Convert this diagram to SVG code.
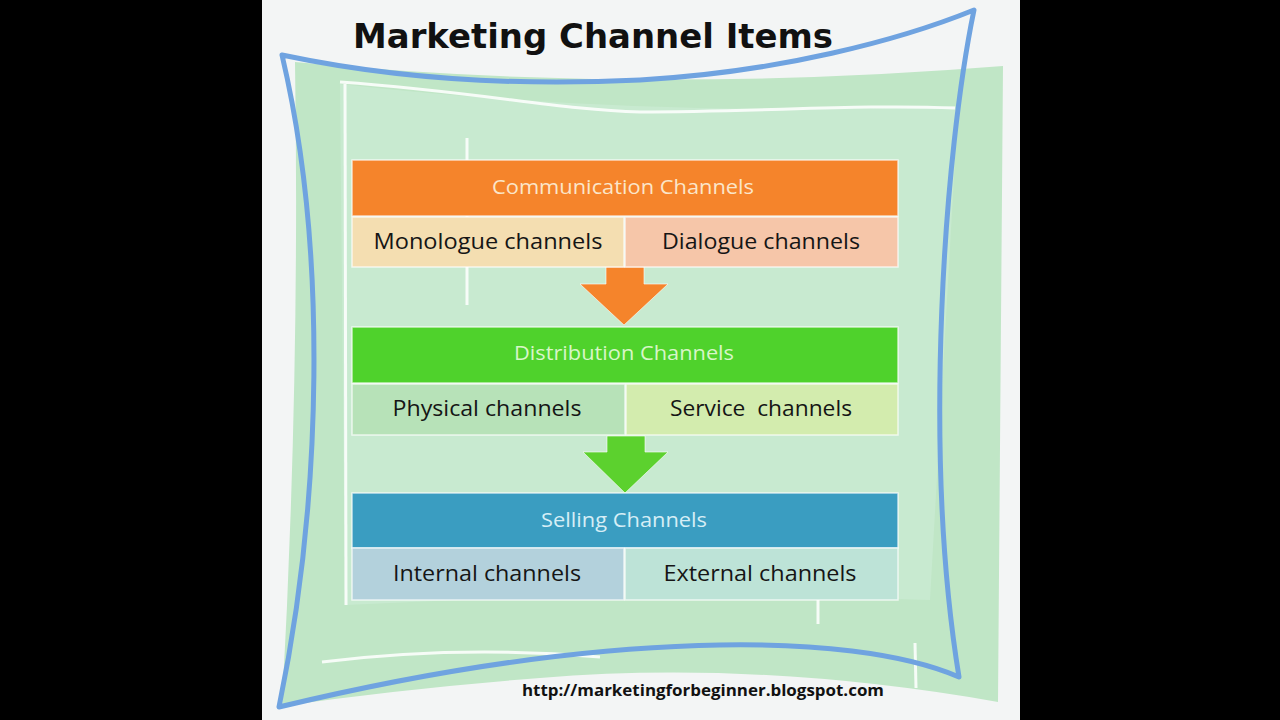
<svg xmlns="http://www.w3.org/2000/svg" width="1280" height="720" viewBox="0 0 1280 720">
<style>
.hdr{font-family:"Open Sans","Liberation Sans",sans-serif;font-size:20px;text-anchor:middle}
.sub{font-family:"Open Sans","Liberation Sans",sans-serif;font-size:22px;fill:#151515;text-anchor:middle}
.wl{fill:none;stroke:#ffffff;stroke-width:3;opacity:0.85}
.blue{fill:none;stroke:#6fa3e0;stroke-width:5;stroke-linejoin:round}
.box{stroke:#ffffff;stroke-width:1.5;stroke-opacity:0.7}
</style>
<rect x="0" y="0" width="1280" height="720" fill="#000000"/>
<rect x="262" y="0" width="758" height="720" fill="#f3f5f5"/>
<g id="background">
<path d="M295,62 Q640,95 1003,66 L998,702 Q760,660 540,678 Q410,688 282,706 Q300,380 295,62 Z" fill="#c0e6c6"/>
<path d="M340,84 Q640,118 958,106 L930,600 Q640,590 345,605 Z" fill="#c8ead0"/>
<path class="wl" d="M340,82 C480,92 560,110 640,112 C760,112 860,104 955,108"/>
<path class="wl" d="M345,84 L346,605"/>
<path class="wl" d="M467,138 L467,305"/>
<path class="wl" d="M818,600 L818,624"/>
<path class="wl" d="M322,662 Q460,645 600,657"/>
<path class="wl" d="M915,643 L916,688"/>
</g>
<g id="frame">
<path class="blue" d="M282,55 C400,80 520,86 640,80 C780,72 900,40 974,10 C945,150 922,450 959,677 C850,630 600,630 279,707 C322,500 328,250 282,55 Z"/>
</g>
<g id="title">
<text x="353" y="48" font-family="'DejaVu Sans','Liberation Sans',sans-serif" font-weight="bold" font-size="34" fill="#111111" textLength="480" lengthAdjust="spacingAndGlyphs">Marketing Channel Items</text>
</g>
<g id="connectors">
<path d="M606,267 L644,267 L644,284 L668,284 L624,325 L580,284 L606,284 Z" fill="#f5842b" stroke="#ffffff" stroke-width="1" stroke-opacity="0.6"/>
<path d="M607,436 L645,436 L645,452 L668,452 L625,493 L583,452 L607,452 Z" fill="#5cd12e" stroke="#ffffff" stroke-width="1" stroke-opacity="0.6"/>
</g>
<g id="communication">
<rect class="box" x="352" y="160" width="546" height="56" fill="#f5842b"/>
<text class="hdr" x="623" y="194" fill="#fbe6c9" textLength="262" lengthAdjust="spacingAndGlyphs">Communication Channels</text>
</g>
<g id="monologue">
<rect class="box" x="352" y="217" width="272" height="50" fill="#f4deb1"/>
<text class="sub" x="488" y="249" textLength="229" lengthAdjust="spacingAndGlyphs">Monologue channels</text>
</g>
<g id="dialogue">
<rect class="box" x="625" y="217" width="273" height="50" fill="#f6c6a9"/>
<text class="sub" x="761" y="249" textLength="198" lengthAdjust="spacingAndGlyphs">Dialogue channels</text>
</g>
<g id="distribution">
<rect class="box" x="352" y="327" width="546" height="56" fill="#4fd22c"/>
<text class="hdr" x="624" y="360" fill="#d8f6c8" textLength="220" lengthAdjust="spacingAndGlyphs">Distribution Channels</text>
</g>
<g id="physical">
<rect class="box" x="352" y="384" width="273" height="51" fill="#b7e2b8"/>
<text class="sub" x="487" y="416" textLength="189" lengthAdjust="spacingAndGlyphs">Physical channels</text>
</g>
<g id="service">
<rect class="box" x="626" y="384" width="272" height="51" fill="#d3ecae"/>
<text class="sub" x="761" y="416" textLength="182" lengthAdjust="spacingAndGlyphs" xml:space="preserve">Service  channels</text>
</g>
<g id="selling">
<rect class="box" x="352" y="493" width="546" height="55" fill="#3a9dc1"/>
<text class="hdr" x="624" y="527" fill="#d6eef6" textLength="166" lengthAdjust="spacingAndGlyphs">Selling Channels</text>
</g>
<g id="internal">
<rect class="box" x="352" y="548" width="272" height="52" fill="#b3d1dc"/>
<text class="sub" x="487" y="581" textLength="188" lengthAdjust="spacingAndGlyphs">Internal channels</text>
</g>
<g id="external">
<rect class="box" x="625" y="548" width="273" height="52" fill="#bde3d7"/>
<text class="sub" x="760" y="581" textLength="193" lengthAdjust="spacingAndGlyphs">External channels</text>
</g>
<g id="url">
<text x="522" y="696" font-family="'Open Sans','Liberation Sans',sans-serif" font-weight="bold" font-size="16" fill="#111111" textLength="362" lengthAdjust="spacingAndGlyphs">http://marketingforbeginner.blogspot.com</text>
</g>
</svg>
